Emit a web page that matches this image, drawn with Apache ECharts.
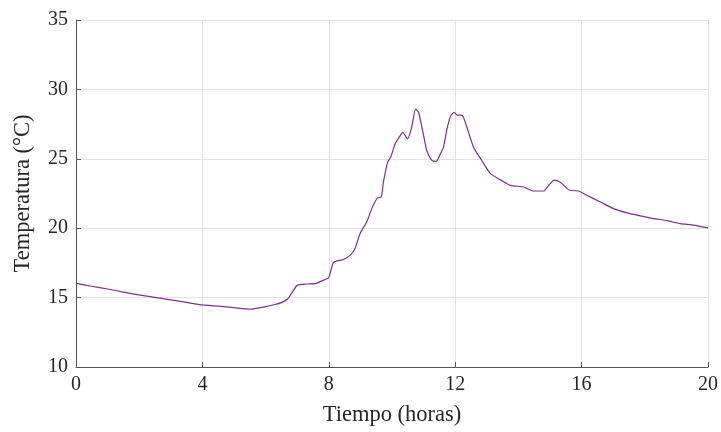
<!DOCTYPE html>
<html><head><meta charset="utf-8">
<script src="https://cdn.jsdelivr.net/npm/echarts@6/dist/echarts.min.js"></script>
<style>html,body{margin:0;padding:0;background:#fff}#c{width:721px;height:432px}</style>
</head><body><div id="c"></div>
<script>
const hours = [0,0.5,1,1.5,2,2.5,3,3.5,4,4.5,5,5.5,6,6.3,6.5,6.7,6.85,7.0,7.3,7.6,7.88,8.0,8.15,8.46,8.68,8.83,8.99,9.2,9.36,9.54,9.66,9.73,9.86,9.96,10.1,10.26,10.34,10.49,10.61,10.75,10.84,10.98,11.1,11.26,11.4,11.53,11.63,11.74,11.86,11.97,12.05,12.23,12.37,12.58,12.84,13.11,13.42,13.74,14.16,14.48,14.8,14.96,15.13,15.32,15.62,15.9,16.17,16.59,17.01,17.44,17.86,18.28,18.7,19.12,19.54,20];
const temps = [16.03,15.82,15.62,15.4,15.19,15.02,14.83,14.65,14.47,14.38,14.28,14.16,14.35,14.5,14.64,14.9,15.4,15.88,15.98,16.03,16.3,16.45,17.54,17.75,18.06,18.54,19.62,20.45,21.41,22.18,22.25,23.33,24.76,25.12,26.08,26.67,26.91,26.44,27.15,28.59,28.35,26.91,25.6,24.88,24.81,25.36,25.84,27.15,28.11,28.35,28.16,28.11,27.27,25.84,24.88,23.95,23.5,23.09,22.97,22.68,22.68,23.09,23.47,23.33,22.73,22.68,22.37,21.89,21.41,21.1,20.89,20.69,20.55,20.33,20.22,20.02];
const xTicks = [0,4,8,12,16,20];
const yTicks = [10,15,20,25,30,35];
const xName = 'Tiempo (horas)';
const yName = 'Temperatura (°C)';

const font = '"Liberation Serif", "DejaVu Serif", serif';
const chart = echarts.init(document.getElementById('c'), null, {renderer:'canvas'});
chart.setOption({
  backgroundColor:'#ffffff',
  animation:false,
  grid:{left:76,right:13,top:20,bottom:62,containLabel:false},
  xAxis:{type:'value',min:xTicks[0],max:xTicks[xTicks.length-1],interval:4,
    name:xName,nameLocation:'middle',nameGap:37,
    nameTextStyle:{fontFamily:font,fontSize:22.5,color:'#262626'},
    axisLine:{lineStyle:{color:'#555',width:1}},
    axisTick:{inside:true,length:5,lineStyle:{color:'#555'}},
    axisLabel:{fontFamily:font,fontSize:20,color:'#262626',margin:8},
    splitLine:{show:true,lineStyle:{color:'#e3e3e3',width:1}}},
  yAxis:{type:'value',min:yTicks[0],max:yTicks[yTicks.length-1],interval:5,
    name:yName,nameLocation:'middle',nameGap:41,nameRotate:90,
    nameTextStyle:{fontFamily:font,fontSize:22.5,color:'#262626'},
    axisLine:{show:true,lineStyle:{color:'#555',width:1}},
    axisTick:{show:true,inside:true,length:5,lineStyle:{color:'#555'}},
    axisLabel:{fontFamily:font,fontSize:20,color:'#262626',margin:8},
    splitLine:{show:true,lineStyle:{color:'#e3e3e3',width:1}}},
  series:[{type:'line',data:hours.map((h,i)=>[h,temps[i]]),showSymbol:false,
    lineStyle:{color:'#7E2F8E',width:1.2},smooth:0.2}]
});
</script></body></html>
